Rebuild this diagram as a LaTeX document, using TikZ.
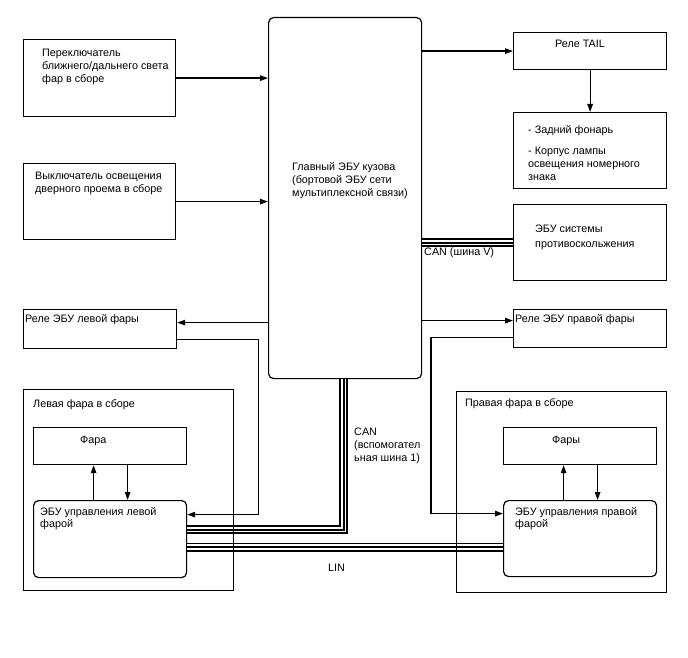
\documentclass[tikz,border=0pt]{standalone}
\usepackage{fontspec}
\setmainfont{Liberation Sans}
\usetikzlibrary{arrows.meta}
\tikzset{
  blk/.style={draw, line width=1.2pt, inner sep=0pt, anchor=north west},
  ecu/.style={blk, rounded corners=5pt},
  txt/.style={anchor=base west, inner sep=0pt, align=left, font=\fontsize{10.8}{13}\selectfont},
  arr/.style={line width=1.2pt, -{Triangle[length=8pt,width=5.5pt]}},
  bus/.style={line width=2pt, preaction={draw, black, line width=9pt}, preaction={draw, white, line width=5.5pt}},
}
\begin{document}
\begin{tikzpicture}[x=1pt, y=-1pt]
    \useasboundingbox (0,0) rectangle (688,658);

    % blocks
    \node[blk, minimum width=152pt, minimum height=77pt] (sw1) at (23,39) {};
    \node[blk, minimum width=152pt, minimum height=76pt] (sw2) at (23,163) {};
    \node[ecu, minimum width=153pt, minimum height=361pt] (main) at (268,17) {};
    \node[blk, minimum width=153pt, minimum height=37pt] (tail) at (513,32) {};
    \node[blk, minimum width=153pt, minimum height=76pt] (lamps) at (513,112) {};
    \node[blk, minimum width=153pt, minimum height=76pt] (abs) at (513,204) {};
    \node[blk, minimum width=153pt, minimum height=39pt] (lrel) at (23,309) {};
    \node[blk, minimum width=153pt, minimum height=38pt] (rrel) at (513,309) {};
    \node[blk, minimum width=153pt, minimum height=37pt] (llamp) at (33,427) {};
    \node[ecu, minimum width=153pt, minimum height=77pt] (lecu) at (33,500) {};
    \node[blk, minimum width=153pt, minimum height=37pt] (rlamp) at (503,427) {};
    \node[ecu, minimum width=153pt, minimum height=76pt] (recu) at (503,500) {};

    % texts (base = last line)
    \node[txt] (sw1txt) at (42,82.5) {Переключатель\\ближнего/дальнего света\\фар в сборе};
    \node[txt] (sw2txt) at (35,192.5) {Выключатель освещения\\дверного проема в сборе};
    \node[txt] (maintxt) at (292,196) {Главный ЭБУ кузова\\(бортовой ЭБУ сети\\мультиплексной связи)};
    \node[txt] (tailtxt) at (555,48) {Реле TAIL};
    \node[txt] (lampstxt) at (528,180) {- Задний фонарь\\[8pt]- Корпус лампы\\освещения номерного\\знака};
    \node[txt] (abstxt) at (535,247) {ЭБУ системы\\[1.5pt]противоскольжения};
    \node[txt] (cantxt) at (424,255) {CAN (шина V)};
    \node[txt] (lreltxt) at (25,322) {Реле ЭБУ левой фары};
    \node[txt] (rreltxt) at (515,322) {Реле ЭБУ правой фары};
    \node[txt] (lassytxt) at (33,407) {Левая фара в сборе};
    \node[txt] (rassytxt) at (465,406) {Правая фара в сборе};
    \node[txt] (llamptxt) at (80,443) {Фара};
    \node[txt] (rlamptxt) at (552,443) {Фары};
    \node[txt] (lecutxt) at (40,527) {ЭБУ управления левой\\[-1pt]фарой};
    \node[txt] (recutxt) at (515,527) {ЭБУ управления правой\\[-1pt]фарой};
    \node[txt] (subtxt) at (354,461) {CAN\\(вспомогател\\ьная шина 1)};
    \node[txt] (lintxt) at (328,571) {LIN};

    % connections
    \coordinate (lrelin) at ([yshift=6.5pt]lrel.east);
    \coordinate (rrelin) at ([yshift=8pt]rrel.west);
    \draw[arr] (sw1.east) -- (sw1 -| main.west);
    \draw[arr] (sw2.east) -- (sw2 -| main.west);
    \draw[arr] (main.east |- tail.west) -- (tail.west);
    \draw[arr] (tail.south) -- (lamps.north);
    \draw[arr] (lrelin -| main.west) -- (lrelin);
    \draw[arr] (rrelin -| main.east) -- (rrelin);
    \draw[arr] ([yshift=-10.5pt]lrel.east) -- ++(81,0) |- ([yshift=24.5pt]lecu.east);
    \draw[arr] ([yshift=-9pt]rrel.west) -- ++(-82,0) |- ([yshift=25pt]recu.west);
    \draw[arr] ([xshift=-16.5pt]lecu.north) -- ([xshift=-16.5pt]llamp.south);
    \draw[arr] ([xshift=17.5pt]llamp.south) -- ([xshift=17.5pt]lecu.north);
    \draw[arr] ([xshift=-16.5pt]recu.north) -- ([xshift=-16.5pt]rlamp.south);
    \draw[arr] ([xshift=17.5pt]rlamp.south) -- ([xshift=17.5pt]recu.north);

    % buses
    \coordinate (linL) at ([yshift=-8pt]lecu.east);
    \draw[bus] (main.east |- abs.west) -- (abs.west);
    \draw[bus] ([xshift=-1.5pt]main.south) |- ([yshift=9.5pt]lecu.east);
    \draw[bus] (linL) -- (linL -| recu.west);

    % assemblies
    \node[blk, minimum width=210pt, minimum height=201pt] (lassy) at (23,389) {};
    \node[blk, minimum width=210pt, minimum height=201pt] (rassy) at (456,391) {};
\end{tikzpicture}
\end{document}
